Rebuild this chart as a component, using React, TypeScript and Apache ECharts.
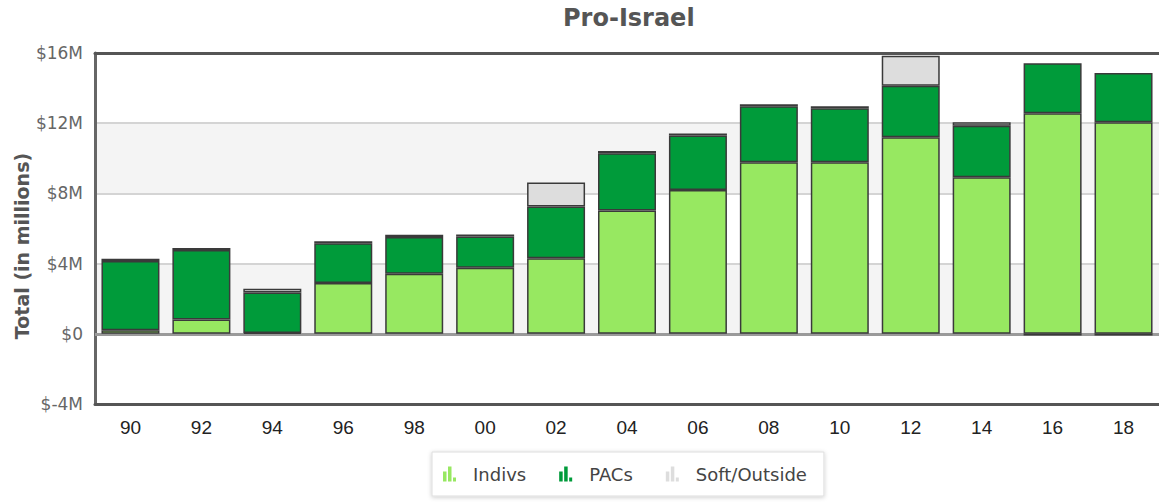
import React, { useEffect, useRef } from "react";
import * as echarts from "echarts";

const years = ["90", "92", "94", "96", "98", "00", "02", "04", "06", "08", "10", "12", "14", "16", "18"];
const indivs = [0.2, 0.82, 0.05, 2.9, 3.42, 3.76, 4.31, 7.02, 8.2, 9.78, 9.78, 11.2, 8.92, 12.56, 12.05];
const pacs = [3.95, 3.95, 2.3, 2.26, 2.1, 1.78, 2.94, 3.27, 3.1, 3.18, 3.07, 2.94, 2.94, 2.85, 2.81];
const soft = [0.12, 0.12, 0.22, 0.12, 0.12, 0.12, 1.37, 0.12, 0.12, 0.12, 0.12, 1.71, 0.19, -0.1, -0.1];
const yTicks = { min: -4, max: 16, interval: 4 };

const fmt = (v: number) => (v === 0 ? "$0" : v < 0 ? `$-${-v}M` : `$${v}M`);

const legendIcon = "path://M0,5h3.5v10h-3.5z M5,0h3.5v15h-3.5z M10,11h3v4h-3z";

export default function App() {
  const ref = useRef<HTMLDivElement>(null);
  useEffect(() => {
    if (!ref.current) return;
    const chart = echarts.init(ref.current, null, { renderer: "svg" });
    const barStyle = (color: string) => ({
      color,
      borderColor: "#3a3a3a",
      borderWidth: 1.5,
    });
    chart.setOption({
      animation: false,
      backgroundColor: "#fff",
      title: {
        text: "Pro-Israel",
        left: 563,
        top: 6,
        padding: 0,
        textStyle: { fontFamily: "DejaVu Sans", fontWeight: "bold", fontSize: 24, color: "#555" },
      },
      graphic: [
        {
          type: "text",
          x: 22,
          y: 246,
          rotation: Math.PI / 2,
          style: {
            text: "Total (in millions)",
            align: "center",
            verticalAlign: "middle",
            font: "bold 19px 'DejaVu Sans'",
            fill: "#555",
          },
        },
      ],
      legend: {
        left: 432,
        top: 452,
        padding: [12, 17, 12, 11],
        itemGap: 33,
        itemWidth: 13,
        itemHeight: 15,
        icon: legendIcon,
        itemStyle: { borderWidth: 0 },
        backgroundColor: "#fff",
        borderColor: "#ddd",
        borderWidth: 1,
        shadowBlur: 4,
        shadowColor: "rgba(0,0,0,0.2)",
        shadowOffsetY: 1,
        textStyle: {
          fontFamily: "DejaVu Sans",
          fontSize: 18,
          color: "#444",
          lineHeight: 20,
          padding: [0, 0, 0, 12],
        },
        data: ["Indivs", "PACs", "Soft/Outside"],
      },
      grid: {
        left: 95,
        top: 53,
        width: 1068,
        height: 351,
      },
      xAxis: [
        {
          type: "category",
          data: years,
          axisLine: { onZero: false, lineStyle: { color: "#555", width: 3 } },
          axisTick: { show: false },
          axisLabel: { fontFamily: "Liberation Sans", fontSize: 19, color: "#222", margin: 14 },
          z: 10,
        },
        {
          type: "category",
          position: "top",
          data: years,
          axisLine: { onZero: false, lineStyle: { color: "#555", width: 3 } },
          axisTick: { show: false },
          axisLabel: { show: false },
          z: 10,
        },
      ],
      yAxis: {
        type: "value",
        min: yTicks.min,
        max: yTicks.max,
        interval: yTicks.interval,
        axisLine: { show: true, lineStyle: { color: "#666", width: 3 } },
        axisTick: { show: false },
        axisLabel: { formatter: fmt, fontFamily: "DejaVu Sans", fontSize: 17, color: "#666", margin: 12 },
        splitLine: { show: true, lineStyle: { color: "#d4d4d4", width: 2 } },
        splitArea: { show: true, areaStyle: { color: ["#ffffff", "#f4f4f4"] } },
      },
      series: [
        {
          name: "Indivs",
          type: "bar",
          stack: "total",
          barWidth: 58,
          data: indivs,
          itemStyle: barStyle("#97e861"),
          markLine: {
            silent: true,
            symbol: "none",
            label: { show: false },
            lineStyle: { color: "#9a9a9a", width: 3, type: "solid" },
            data: [{ yAxis: 0 }],
            z: 1,
          },
        },
        {
          name: "PACs",
          type: "bar",
          stack: "total",
          barWidth: 58,
          data: pacs,
          itemStyle: barStyle("#009b3a"),
        },
        {
          name: "Soft/Outside",
          type: "bar",
          stack: "total",
          barWidth: 58,
          data: soft,
          itemStyle: barStyle("#dddddd"),
        },
      ],
    });
    return () => chart.dispose();
  }, []);
  return (
    <div
      ref={ref}
      style={{ position: "fixed", left: 0, top: 0, width: 1159, height: 504 }}
    />
  );
}
